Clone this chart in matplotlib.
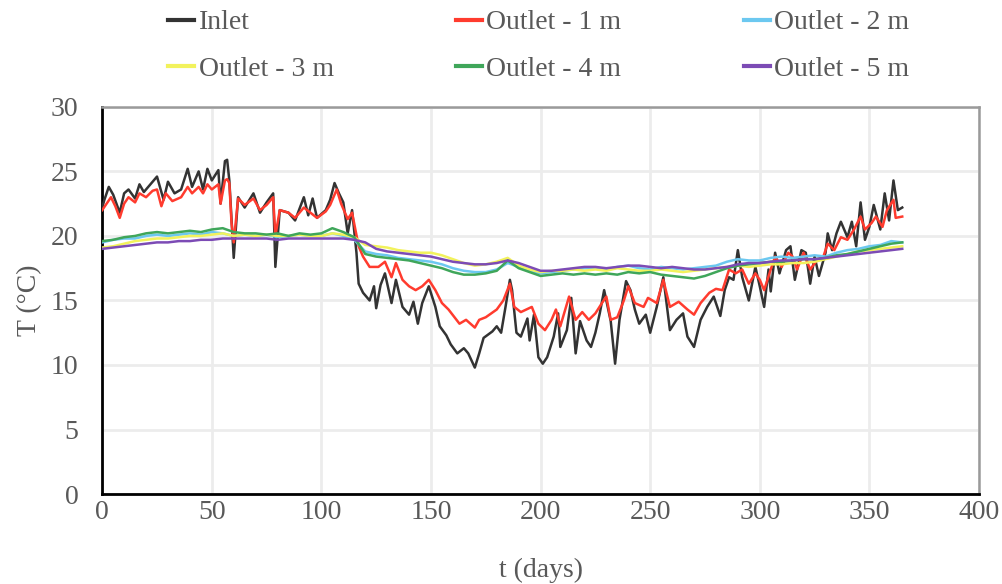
import numpy as np
import matplotlib.pyplot as plt

inlet_days = [0, 1, 3, 5, 8, 10, 12, 15, 17, 19, 23, 25, 28, 30, 33, 36, 39, 41, 44, 46,
              48, 50, 53, 54, 56, 57, 58, 60, 62, 65, 69, 72, 75, 78, 79, 81, 85, 88, 92, 94,
              96, 98, 102, 104, 106, 108, 110, 112, 114, 116, 117, 119, 122, 124, 125, 127, 129, 132, 134, 137,
              140, 142, 144, 146, 149, 152, 154, 157, 159, 162, 165, 167, 170, 172, 174, 178, 180, 182, 184, 186,
              187, 189, 191, 194, 195, 197, 199, 201, 203, 206, 208, 209, 212, 214, 216, 218, 221, 223, 225, 227,
              229, 232, 234, 236, 239, 241, 243, 245, 248, 250, 253, 256, 259, 262, 265, 267, 270, 273, 276, 279,
              282, 284, 286, 288, 290, 292, 295, 298, 300, 302, 304, 305, 307, 309, 312, 314, 316, 319, 321, 323,
              325, 327, 330, 331, 333, 335, 337, 340, 342, 344, 346, 348, 350, 352, 355, 357, 359, 361, 363, 365]
inlet = [22.2, 22.8, 23.8, 23.2, 21.8, 23.3, 23.6, 22.9, 24.0, 23.4, 24.2, 24.6, 22.8, 24.2, 23.3, 23.6, 25.2, 23.8, 25.0, 23.6,
         25.2, 24.3, 25.1, 22.5, 25.8, 25.9, 24.3, 18.3, 23.0, 22.2, 23.3, 21.8, 22.6, 23.3, 17.6, 22.0, 21.8, 21.2, 23.0, 21.6,
         22.9, 21.4, 22.0, 22.8, 24.1, 23.3, 22.6, 20.2, 22.0, 18.7, 16.3, 15.6, 15.0, 16.1, 14.4, 16.2, 17.1, 14.8, 16.6, 14.5,
         13.9, 14.9, 13.2, 14.8, 16.1, 14.5, 13.0, 12.3, 11.6, 10.9, 11.3, 10.9, 9.8, 10.9, 12.1, 12.6, 13.0, 12.5, 14.5, 16.6,
         15.8, 12.5, 12.2, 13.6, 11.9, 13.9, 10.6, 10.1, 10.6, 12.2, 14.0, 11.4, 12.7, 15.2, 10.9, 13.4, 11.9, 11.4, 12.5, 14.0,
         15.8, 13.4, 10.1, 13.5, 16.5, 15.8, 14.3, 13.2, 13.9, 12.5, 14.5, 16.8, 12.7, 13.5, 14.0, 12.2, 11.4, 13.5, 14.5, 15.3,
         13.8, 15.8, 16.8, 16.6, 18.9, 16.8, 15.0, 17.6, 16.1, 14.5, 17.4, 15.7, 18.7, 17.1, 18.9, 19.2, 16.6, 18.9, 18.7, 16.3,
         18.4, 16.9, 18.7, 20.2, 18.9, 20.2, 21.1, 19.9, 21.1, 19.2, 22.6, 19.7, 20.7, 22.4, 20.5, 23.3, 21.2, 24.3, 22.0, 22.2]

# Outlet - 1 m
out1_days = [0, 2, 4, 6, 8, 10, 12, 15, 17, 20, 23, 25, 27, 29, 32, 36, 39, 41, 44, 46,
             48, 50, 53, 54, 56, 57, 58, 59, 60, 62, 65, 69, 72, 75, 78, 79, 81, 85, 88, 92,
             95, 98, 102, 104, 107, 109, 112, 114, 117, 119, 122, 126, 129, 132, 134, 137, 140, 143, 146, 149,
             152, 155, 158, 163, 166, 170, 172, 175, 180, 183, 186, 188, 191, 196, 199, 202, 205, 207, 209, 213,
             216, 219, 222, 225, 228, 230, 232, 235, 238, 240, 243, 247, 249, 253, 256, 259, 263, 267, 270, 273,
             277, 280, 283, 286, 289, 292, 295, 298, 300, 302, 305, 307, 310, 313, 315, 317, 320, 323, 326, 329,
             331, 334, 337, 340, 343, 346, 348, 351, 353, 356, 358, 361, 362, 365]
out1 = [22.0, 22.5, 23.0, 22.3, 21.4, 22.5, 23.0, 22.6, 23.3, 23.0, 23.5, 23.6, 22.3, 23.3, 22.7, 23.0, 23.8, 23.3, 23.8, 23.3,
        24.0, 23.6, 24.0, 22.5, 24.3, 24.4, 24.1, 21.0, 19.5, 22.9, 22.4, 22.9, 22.0, 22.4, 23.0, 20.0, 22.0, 21.8, 21.4, 22.2,
        21.8, 21.4, 21.9, 22.4, 23.6, 22.5, 21.3, 21.8, 19.2, 18.4, 17.6, 17.6, 18.0, 16.8, 17.9, 16.6, 16.1, 15.8, 16.1, 16.6,
        15.8, 14.8, 14.3, 13.2, 13.5, 12.9, 13.5, 13.7, 14.3, 15.0, 16.3, 14.5, 14.1, 14.5, 13.2, 12.7, 13.5, 14.3, 13.0, 15.3,
        13.5, 14.1, 13.5, 14.0, 14.8, 15.3, 13.5, 13.7, 15.0, 16.1, 14.8, 14.5, 15.2, 14.8, 16.6, 14.5, 14.9, 14.3, 13.9, 14.8,
        15.6, 15.9, 15.8, 17.4, 17.1, 17.4, 16.3, 17.1, 16.6, 15.8, 17.4, 18.4, 17.6, 18.7, 18.4, 17.4, 18.7, 17.4, 18.1, 18.4,
        19.4, 18.9, 19.9, 19.7, 20.5, 21.5, 20.5, 21.0, 21.5, 20.7, 22.0, 22.8, 21.4, 21.5]

# Outlets 2 - 5 m, read every 5 days (day 0 to 365)
deep_days = list(range(0, 366, 5))
out2 = [19.5, 19.7, 19.8, 19.8, 20.0, 20.1, 20.0, 20.1, 20.2, 20.1,
        20.3, 20.2, 20.0, 20.1, 20.0, 20.1, 19.9, 20.0, 20.1, 20.0,
        20.0, 20.2, 20.0, 19.7, 18.8, 18.6, 18.5, 18.3, 18.2, 18.1,
        18.0, 17.8, 17.5, 17.3, 17.2, 17.2, 17.4, 17.9, 17.6, 17.3,
        17.1, 17.2, 17.3, 17.4, 17.5, 17.5, 17.4, 17.6, 17.7, 17.5,
        17.4, 17.6, 17.5, 17.4, 17.5, 17.6, 17.7, 18.0, 18.2, 18.1,
        18.1, 18.3, 18.4, 18.3, 18.4, 18.5, 18.4, 18.7, 18.9, 19.0,
        19.2, 19.3, 19.6, 19.5]
out3 = [19.1, 19.2, 19.4, 19.6, 19.7, 19.8, 19.8, 19.9, 20.0, 20.0,
        20.1, 20.2, 20.0, 20.1, 20.0, 20.1, 20.0, 20.0, 20.1, 20.0,
        20.0, 20.2, 20.1, 19.9, 19.3, 19.2, 19.1, 18.9, 18.8, 18.7,
        18.7, 18.5, 18.2, 17.9, 17.7, 17.8, 18.0, 18.3, 17.7, 17.4,
        17.2, 17.3, 17.3, 17.4, 17.3, 17.4, 17.3, 17.5, 17.4, 17.3,
        17.3, 17.4, 17.3, 17.2, 17.3, 17.4, 17.5, 17.6, 17.7, 17.6,
        17.7, 17.8, 17.8, 17.9, 17.9, 18.0, 18.2, 18.4, 18.6, 18.8,
        18.9, 19.0, 19.1, 19.2]
out4 = [19.6, 19.7, 19.9, 20.0, 20.2, 20.3, 20.2, 20.3, 20.4, 20.3,
        20.5, 20.6, 20.3, 20.2, 20.2, 20.1, 20.2, 20.0, 20.2, 20.1,
        20.2, 20.6, 20.3, 19.9, 18.6, 18.4, 18.3, 18.2, 18.1, 17.9,
        17.7, 17.5, 17.2, 17.0, 17.0, 17.1, 17.3, 18.1, 17.5, 17.2,
        16.9, 17.0, 17.1, 17.0, 17.1, 17.0, 17.1, 17.0, 17.2, 17.1,
        17.2, 17.0, 16.9, 16.8, 16.7, 16.9, 17.2, 17.5, 17.7, 17.8,
        17.9, 18.0, 18.0, 18.1, 18.2, 18.2, 18.3, 18.5, 18.6, 18.8,
        19.0, 19.2, 19.4, 19.5]
out5 = [19.0, 19.1, 19.2, 19.3, 19.4, 19.5, 19.5, 19.6, 19.6, 19.7,
        19.7, 19.8, 19.8, 19.8, 19.8, 19.8, 19.7, 19.8, 19.8, 19.8,
        19.8, 19.8, 19.8, 19.7, 19.5, 19.0, 18.8, 18.7, 18.6, 18.5,
        18.4, 18.2, 18.0, 17.9, 17.8, 17.8, 17.9, 18.1, 17.9, 17.6,
        17.3, 17.3, 17.4, 17.5, 17.6, 17.6, 17.5, 17.6, 17.7, 17.7,
        17.6, 17.5, 17.6, 17.5, 17.4, 17.4, 17.5, 17.6, 17.8, 17.9,
        17.9, 18.0, 18.1, 18.1, 18.2, 18.2, 18.3, 18.4, 18.5, 18.6,
        18.7, 18.8, 18.9, 19.0]

labels = ['Inlet', 'Outlet - 1 m', 'Outlet - 2 m', 'Outlet - 3 m', 'Outlet - 4 m', 'Outlet - 5 m']
colors = ['#333333', '#ff3b2e', '#6cc8f0', '#f2f25c', '#3fa65a', '#7c4bb5']

plt.rcParams['font.family'] = ['Liberation Serif', 'DejaVu Serif']
txt = '#595959'

fig = plt.figure(figsize=(10.02, 5.84), dpi=100)
ax = fig.add_axes([0.102, 0.154, 0.875, 0.663])

series = [(inlet_days, inlet), (out1_days, out1), (deep_days, out2),
          (deep_days, out3), (deep_days, out4), (deep_days, out5)]
lines = []
for (d, v), lab, c in zip(series, labels, colors):
    ln, = ax.plot(d, v, color=c, lw=1.8, label=lab, zorder=3)
    lines.append(ln)

ax.set_xlim(0, 400)
ax.set_ylim(0, 30)
ax.set_xticks(np.arange(0, 401, 50))
ax.set_yticks(np.arange(0, 31, 5))
ax.grid(True, color='#ececec', lw=2, zorder=0)
ax.set_axisbelow(True)
ax.tick_params(length=0, labelsize=20, colors=txt)
ax.tick_params(axis='y', pad=17)
ax.tick_params(axis='x', pad=4)

for s in ['left', 'bottom']:
    ax.spines[s].set_color('black')
    ax.spines[s].set_linewidth(2)
for s in ['top', 'right']:
    ax.spines[s].set_color('#9a9a9a')
    ax.spines[s].set_linewidth(1.8)

ax.set_xlabel('t (days)', fontsize=20, color=txt, labelpad=24)
ax.set_ylabel('T (°C)', fontsize=20, color=txt, labelpad=6)

# legend fills column-wise, so reorder to get 2 rows x 3 cols
order = [0, 3, 1, 4, 2, 5]
leg = fig.legend([lines[i] for i in order], [labels[i] for i in order],
                 ncol=3, loc='upper left', bbox_to_anchor=(0.1677, 0.983),
                 frameon=False, fontsize=20, handlelength=0.95, handletextpad=0.15,
                 columnspacing=4.4, labelspacing=0.75, borderpad=0, borderaxespad=0)
for t in leg.get_texts():
    t.set_color(txt)
for h in leg.legend_handles:
    h.set_linewidth(3)

fig.savefig('out.png', dpi=100)
